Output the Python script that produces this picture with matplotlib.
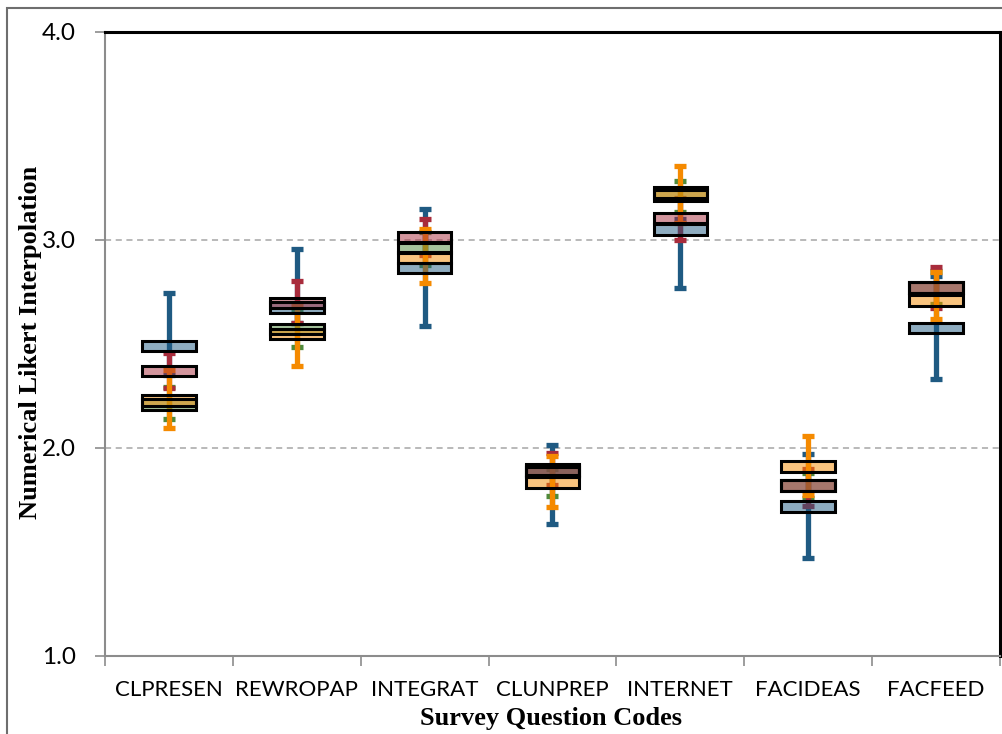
import matplotlib
matplotlib.use("Agg")
import matplotlib.pyplot as plt
from matplotlib.patches import Rectangle

codes = ['CLPRESEN', 'REWROPAP', 'INTEGRAT', 'CLUNPREP', 'INTERNET', 'FACIDEAS', 'FACFEED']

# mean and whisker range for each of the four groups
blue_mean = [2.49, 2.675, 2.865, 1.895, 3.05, 1.718, 2.577]
blue_low = [2.35, 2.60, 2.587, 1.635, 2.771, 1.473, 2.33]
blue_high = [2.747, 2.955, 3.148, 2.014, 3.10, 1.971, 2.827]

red_mean = [2.37, 2.697, 3.012, 1.89, 3.106, 1.821, 2.77]
red_low = [2.29, 2.60, 2.93, 1.82, 3.0, 1.72, 2.672]
red_high = [2.458, 2.804, 3.10, 1.977, 3.20, 1.90, 2.869]

green_mean = [2.21, 2.572, 2.963, 1.885, 3.212, 1.82, 2.77]
green_low = [2.138, 2.484, 2.88, 1.77, 3.136, 1.76, 2.69]
green_high = [2.295, 2.66, 3.04, 1.90, 3.285, 1.88, 2.85]

orange_mean = [2.23, 2.548, 2.916, 1.835, 3.228, 1.913, 2.709]
orange_low = [2.096, 2.394, 2.795, 1.715, 3.08, 1.774, 2.62]
orange_high = [2.375, 2.69, 3.051, 1.96, 3.356, 2.058, 2.848]

# drawing order: blue, green, red, orange
series = [
    (blue_mean, blue_low, blue_high, '#1f5a82'),
    (green_mean, green_low, green_high, '#4f8a3c'),
    (red_mean, red_low, red_high, '#a82c3c'),
    (orange_mean, orange_low, orange_high, '#f58a00'),
]

fig = plt.figure(figsize=(10.03, 7.34), dpi=100)
ax = fig.add_axes([105 / 1003, 78 / 734, 895 / 1003, 624 / 734])

# outer chart border
fig.patches.append(Rectangle((7 / 1003, -0.1), 1.2, (734 - 8) / 734 + 0.1,
                             transform=fig.transFigure, fill=False,
                             edgecolor='#6e6e6e', lw=1.5))

x = list(range(len(codes)))
box_w = 0.42
box_h = 0.052
for mean, low, high, col in series:
    yerr = [[m - l for m, l in zip(mean, low)], [h - m for m, h in zip(mean, high)]]
    ax.errorbar(x, mean, yerr=yerr, fmt='none', ecolor=col, elinewidth=3.8,
                capsize=4.5, capthick=3.8, zorder=2)
    for xi, m in zip(x, mean):
        ax.add_patch(Rectangle((xi - box_w / 2, m - box_h / 2), box_w, box_h,
                               facecolor=col, alpha=0.5, edgecolor='none', zorder=3))
        ax.add_patch(Rectangle((xi - box_w / 2, m - box_h / 2), box_w, box_h,
                               fill=False, edgecolor='black', lw=2.2, zorder=4))

ax.set_xlim(-0.5, 6.5)
ax.set_ylim(1.0, 4.0)
ax.set_yticks([1.0, 2.0, 3.0, 4.0])
ax.set_yticklabels(['1.0', '2.0', '3.0', '4.0'])
ax.set_xticks(x)
ax.set_xticklabels(codes)
ax.set_xticks([i - 0.5 for i in range(len(codes) + 1)], minor=True)
ax.tick_params(axis='x', which='major', length=0, pad=17, labelsize=16)
ax.tick_params(axis='x', which='minor', length=7, color='#8c8c8c', width=1.2)
ax.tick_params(axis='y', length=7, color='#8c8c8c', width=1.2, labelsize=17.5, pad=14)
for lab in ax.get_xticklabels() + ax.get_yticklabels():
    lab.set_family('Lato')

for yv in [2.0, 3.0]:
    ax.axhline(yv, color='#a6a6a6', lw=1.1, ls=(0, (4, 3)), zorder=1)

ax.spines['left'].set_color('#8c8c8c')
ax.spines['bottom'].set_color('#8c8c8c')
ax.spines['left'].set_linewidth(1.5)
ax.spines['bottom'].set_linewidth(1.5)
ax.spines['top'].set_color('black')
ax.spines['right'].set_color('black')
ax.spines['top'].set_linewidth(2.2)
ax.spines['right'].set_linewidth(2.2)

ax.set_xlabel('Survey Question Codes', family='Liberation Serif', weight='bold',
              fontsize=19)
ax.set_ylabel('Numerical Likert Interpolation', family='Liberation Serif', weight='bold',
              fontsize=19)
ax.xaxis.set_label_coords((551 - 105) / 895, -(718 - 656) / 624)
ax.xaxis.label.set_va('center')
ax.yaxis.set_label_coords(-(105 - 30) / 895, (656 - 342) / 624)
ax.yaxis.label.set_va('center')

fig.savefig('out.png', dpi=100)
